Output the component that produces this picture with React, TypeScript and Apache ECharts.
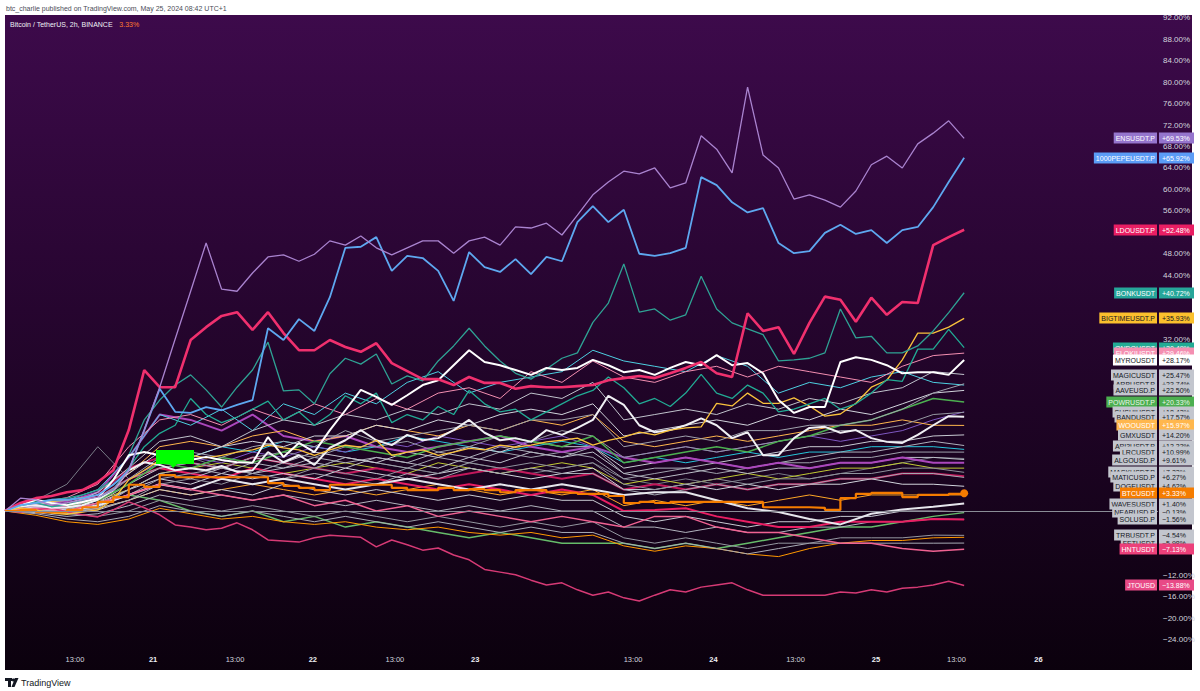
import React, { useEffect, useRef } from "react";
import * as echarts from "echarts";

// x axis: bar index (2h bars), tick labels placed at fractional bar positions
const xTickPos = [4.52, 9.57, 14.87, 19.9, 25.2, 30.4, 40.6, 45.8, 51.1, 56.3, 61.5, 66.8];
const xTickLabels = ["13:00", "21", "13:00", "22", "13:00", "23", "13:00", "24", "13:00", "25", "13:00", "26"];
const yMin = -28;
const yMax = 92;
const yStep = 4;

// ---- main series (63 bars, % change) ----
const ensVals = [0,2.4,2.1,1.1,1.5,2.1,2.6,3.9,7.6,15.1,23.1,32.1,41.0,50.0,41.4,41.0,44.4,47.4,47.8,46.6,47.9,50.4,49.6,51.3,49.1,47.8,49.1,50.4,50.4,48.1,50.4,51.1,49.6,53.0,52.8,53.7,51.5,55.2,59.0,61.4,63.4,62.9,64.0,60.3,61.2,70.0,67.5,63.1,79.1,66.4,64.0,58.2,59.0,58.0,56.7,59.7,64.6,66.2,64.0,68.5,70.5,72.8,69.53];
const pepeVals = [0,1.1,1.5,2.1,2.1,2.4,3.0,4.9,7.6,15.1,22.8,18.5,18.3,19.4,18.8,19.8,20.7,34.1,31.9,35.8,33.6,39.9,49.1,49.3,51.1,44.8,47.6,47.2,44.8,39.2,48.3,45.5,44.6,47.0,44.2,47.4,46.6,53.9,56.9,53.9,56.2,48.0,47.6,48.1,49.1,62.3,60.8,57.6,55.7,56.5,50.0,48.1,48.5,51.9,53.4,51.7,52.4,50.0,52.4,53.0,56.7,61.4,65.92];
const ldoVals = [0,1.5,2.4,2.8,3.5,3.9,5.4,7.6,15.1,26.3,23.1,23.1,31.9,34.3,36.4,37.1,33.8,37.1,33.2,30.0,30.0,31.9,30.6,29.7,31.3,27.6,26.1,24.6,24.6,23.5,25.0,23.9,23.9,22.8,23.3,23.1,23.1,23.3,23.5,24.4,24.8,25.2,24.8,25.7,26.7,27.8,25.7,25.0,36.9,33.6,34.3,29.3,35.1,40.0,39.4,35.3,39.8,36.6,39.0,38.8,49.6,51.1,52.48];
const bonkVals = [0,1.1,1.7,2.1,2.4,3.0,3.9,5.8,10.4,17.0,20.7,23.5,25.4,22.6,19.4,23.1,26.3,31.5,22.4,22.6,20.0,25.6,28.5,27.4,29.3,23.7,25.2,24.3,28.0,30.8,34.1,30.8,28.0,25.7,24.6,26.5,28.5,29.5,35.2,38.8,46.1,37.1,37.7,35.6,36.6,43.8,37.7,35.1,34.0,32.9,28.0,28.2,28.5,29.5,37.7,32.3,32.6,29.5,29.5,30.8,33.6,37.0,40.72];
const bigtimeVals = [0,0.6,0.2,-0.4,-0.6,-0.2,0.2,2.1,5.8,7.6,9.5,9.1,10.4,9.9,10.4,11.0,11.4,12.3,11.8,11.4,10.4,11.4,12.3,11.9,13.2,10.4,11.0,11.4,10.4,11.0,11.7,11.4,12.3,11.9,12.3,12.9,13.2,13.6,12.3,13.2,13.8,14.7,14.2,15.1,15.5,15.7,20.1,19.6,22.0,20.1,20.1,21.1,19.6,17.7,18.1,20.1,23.1,24.4,28.2,33.2,33.2,34.3,35.93];
const ondoVals = [0,1.0,1.5,0.8,1.2,2.0,2.5,4.0,8.0,12.0,14.5,16.0,21.0,18.0,16.5,17.5,19.0,20.5,17.0,18.5,16.0,18.0,21.5,20.0,22.0,16.5,18.0,17.0,19.5,18.0,22.5,20.0,18.5,19.0,17.0,18.5,20.0,21.5,22.5,25.0,23.0,20.0,21.0,19.5,22.0,25.5,22.0,21.0,23.5,22.0,18.5,19.0,20.0,21.0,19.0,20.0,22.0,24.5,24.2,30.2,30.2,33.9,30.49];
const myroVals = [0,1.1,2.1,1.5,1.1,1.7,2.4,5.8,10.4,11.0,10.4,9.9,9.5,10.1,9.5,9.1,9.0,13.8,10.1,12.7,11.0,15.1,18.8,22.6,21.3,19.8,21.6,23.5,24.4,27.2,30.0,27.8,27.2,26.3,25.4,26.7,26.3,26.7,28.2,27.2,25.9,26.3,25.4,26.7,27.8,27.2,29.1,27.2,27.6,25.7,20.7,18.3,19.4,19.4,27.8,28.7,28.2,27.2,25.7,25.9,25.9,25.4,28.17];
const bandVals = [0,0.9,1.1,0.6,0.7,1.1,2.1,3.9,7.6,9.1,8.6,7.6,8.0,7.6,8.4,7.3,7.6,11.0,9.1,10.4,8.6,11.8,13.2,15.1,13.2,12.3,14.2,13.2,13.6,15.1,17.0,14.6,13.2,13.6,12.9,15.1,14.2,15.5,17.0,21.5,19.8,16.0,14.7,15.1,16.0,17.3,16.0,13.6,14.7,10.4,10.4,13.6,15.5,15.7,14.6,15.1,13.6,12.9,12.7,14.2,16.0,17.7,17.57];
const btcVals = [0,0.2,-0.2,-0.2,0.2,0.7,1.7,2.6,4.9,4.5,6.7,6.3,6.3,6.3,6.3,6.3,6.3,5.2,4.7,4.3,3.9,4.9,4.9,4.9,4.9,4.3,3.9,3.9,4.3,3.9,4.1,3.9,3.5,3.9,3.9,3.5,3.4,3.2,3.2,2.8,1.5,1.7,1.5,1.7,1.7,1.7,1.7,1.7,1.7,0.7,0.7,0.7,0.6,0.2,2.4,3.2,3.4,3.4,2.6,3.0,3.0,3.2,3.33];
const jtoVals = [0,-0.2,0.2,0.6,-0.2,-0.7,-1.1,0.2,1.7,0.6,-0.7,-2.6,-3.0,-3.5,-3.2,-2.2,-3.5,-5.4,-5.6,-5.8,-5.0,-4.5,-4.7,-4.9,-6.7,-5.4,-6.3,-7.3,-6.9,-8.2,-9.1,-10.9,-11.4,-11.9,-12.9,-13.8,-13.4,-14.7,-15.7,-15.1,-16.2,-16.8,-15.7,-14.7,-15.1,-14.2,-13.8,-13.4,-14.7,-15.7,-15.7,-15.7,-15.7,-15.7,-15.1,-15.3,-14.7,-15.1,-14.4,-14.2,-13.8,-13.1,-13.88];

// ---- cluster series (every 2nd bar, 32 points, % change) ----
const magicVals = [0,1.5,1.0,3.5,8,13,14,12,15,17,16,18,17,19,18,20,19,22,21,24,17,18,19,18,20,19,21,20,22,23,26,25.47];
const arbVals = [0,1.2,0.5,2.5,6,10,11,10,12,13,12,15,13,14,15,16,15,17,17,18,12,13,14,13,15,15,16,16,17,19,22,23.74];
const aaveVals = [0,0.8,1.5,3.0,7,11,10,12,13,12,14,14,16,15,17,16,18,19,18,20,14,15,16,17,16,18,17,19,18,20,22,22.5];
const powrVals = [0,2.0,1.0,2.0,5,9,8,10,9,11,13,12,11,10,12,13,14,13,12,14,9,10,11,12,11,13,14,16,17,19,21,20.33];
const sushiVals = [0,0.5,0.0,1.5,6,8,9,8,10,11,10,12,12,13,11,12,14,13,15,14,10,11,12,11,12,13,14,15,15,16,18,18.42];
const wooVals = [0,1.5,2.0,3.0,7,12,13,12,14,15,13,14,16,15,14,16,15,17,16,18,13,12,13,14,13,14,15,16,16,17,16,15.97];
const gmxVals = [0,0.8,0.2,1.5,5,8,9,8,10,9,11,10,9,11,10,12,11,13,12,12,8,9,10,9,10,11,12,12,13,13,14,14.2];
const api3Vals = [0,0.3,-0.5,0.5,4,7,8,7,9,8,10,9,10,9,11,10,12,11,10,12,7,8,8,9,8,9,10,11,11,12,13,12.22];
const lrcVals = [0,0.6,0.0,1.0,3,6,7,8,7,9,8,10,9,8,10,9,11,10,11,10,6,7,8,7,8,9,9,10,10,11,11,10.99];
const algoVals = [0,1.0,0.5,1.5,4,7,6,8,7,8,9,8,10,9,8,10,9,11,10,11,7,6,7,8,7,8,8,9,9,10,10,9.61];
const maskVals = [0,0.2,-0.3,0.8,3,5,6,5,7,6,8,7,6,8,7,9,8,9,8,9,5,4,5,6,5,6,6,7,7,8,8,7.22];
const maticVals = [0,0.5,0.0,0.5,2,5,4,6,5,6,7,6,5,7,6,8,7,8,7,7,4,3,4,5,4,5,5,6,6,7,7,6.27];
const dogeVals = [0,0.6,0.0,1.2,4,6,5,7,6,7,6,8,7,6,7,8,7,6,7,8,4,4,5,4,5,4,5,5,6,5,5,4.62];
const wavesVals = [0,0.5,0.0,1.0,3,5,4,6,5,6,5,4,5,6,5,4,5,4,5,4,3,3.5,3.5,2,0.5,-0.2,-1.5,-2.5,-0.5,0.3,0.8,1.4];
const nearVals = [0,0.3,-0.5,0.2,2,4,3,4,3,5,4,3,4,3,2,3,2,3,2,2,-1,-2,-1,-2,-3,-2,-2,-1,-1,0,0,-0.13];
const solVals = [0,-0.3,-1.0,-0.5,1,3,2,3,2,3,2,1,2,1,0,1,0,1,0,0,-3,-3,-4,-3,-4,-4,-3,-3,-2,-2,-1.5,-1.56];
const trbVals = [0,0.2,-0.5,-1,0,2,1,0,1,0,-1,0,-1,-2,-1,-2,-3,-2,-3,-2,-5,-6,-5,-6,-7,-6,-6,-5,-5,-5,-4.5,-4.54];
const fetVals = [0,-0.5,-1.5,-2,-1,1,0,-1,0,-1,-2,-1,-2,-3,-2,-3,-4,-3,-4,-4,-6,-7,-6,-7,-8,-7,-6,-6,-6,-6,-6,-5.98];
const hntVals = [0,0.5,0.0,1.5,3,5,4,3,2,3,1,2,0,1,-1,0,-1,-2,-1,-2,-3,-1,-1,-3,-4,-4,-5,-6,-6,-7,-7.5,-7.13];
const flokiVals = [0,1.5,2.5,5.0,12,17,18,16,19,17,20,18,21,19,22,23,21,26,24,28,25,24,26,27,25,27,26,25,24,27,29,29.46];
const orangeLowVals = [0,-0.8,-2.0,-2.5,-1.5,0.5,-0.5,-1.5,-1,-2,-2.5,-2,-3,-3.5,-3,-4,-4.5,-4,-5,-4.5,-6.5,-7.5,-6.5,-7,-8,-8.5,-7,-6,-5.5,-5.5,-5,-4.9];
const pinkRedVals = [0,1.0,0.5,2.5,6,8,7,6,8,7,6,5,6,5,4,5,4,3,4,3,0,0.2,0.5,-1,-2,-3,-3,-2,-2,-2,-1.5,-1.6];
const greenLowVals = [0,0.5,-0.5,1.0,3,2,0,-1,0,-2,-1,-3,-2,-3,-4,-5,-4,-5,-6,-6,-6,-7,-6,-7,-6,-5,-4,-3,-3,-2,-1,-0.3];
const cyanVals = [0,1.5,2.0,4.0,10,18,16,19,15,20,18,22,20,24,26,22,24,25,26,30,28,27,26,29,27,22,24,23,25,26,24,23.5];
const cyan2Vals = [0,0.8,0.3,2.0,5,9,10,12,11,13,12,11,12,14,13,12,11,12,13,12,9,10,9,10,11,10,11,11,12,12,12,11.5];
const purpleVals = [0,1.2,1.8,3.5,10,18,17,15,18,14,13,14,12,11,12,13,14,12,11,12,10,9,10,9,8,9,8,9,9,10,9,9.0];
const violetVals = [0,0.7,1.0,2.5,6,9,10,9,11,10,12,11,13,12,14,13,12,13,14,12,10,11,12,11,12,13,14,13,14,15,17,18.5];
const magentaVals = [0,1.2,0.8,3.0,8,10,9,8,10,9,8,7,8,7,6,7,8,7,6,7,4,5,4,5,4,5,5,6,6,7,7,6.5];
const oliveVals = [0,0.5,1.0,2.0,4,7,8,9,8,7,8,9,8,7,9,8,7,8,9,8,5,6,5,6,7,6,7,8,8,9,8,8.0];
const orange2Vals = [0,0.2,-0.3,0.5,2,4,3,4,5,4,3,4,3,4,5,4,3,4,3,4,1,2,1,2,1,2,3,2,3,3,3,3.0];
const graySpikeVals = [0,2,5,12,6,9,10,8,7,9,8,10,9,8,7,9,8,7,8,9,6,5,6,5,6,7,6,7,8,9,10,9.8];

type Spec = {
  name: string;
  vals: number[];
  stride: number;
  color: string;
  width: number;
  step?: boolean;
  label?: string;
  box?: string;
  fg?: string;
};

const GRAYBOX = "#c3c6ce";
const DARK = "#131722";

// drawing order: cluster first, main series last
const specs: Spec[] = [
  { name: "graySpike", vals: graySpikeVals, stride: 2, color: "#787b86", width: 1 },
  { name: "cyan2", vals: cyan2Vals, stride: 2, color: "#26c6da", width: 1 },
  { name: "olive", vals: oliveVals, stride: 2, color: "#c0ca33", width: 1 },
  { name: "orange2", vals: orange2Vals, stride: 2, color: "#ffa726", width: 1 },
  { name: "greenLow", vals: greenLowVals, stride: 2, color: "#66bb6a", width: 1.5 },
  { name: "orangeLow", vals: orangeLowVals, stride: 2, color: "#ff9800", width: 1 },
  { name: "FETUSDT", vals: fetVals, stride: 2, color: "#a9acb6", width: 1, label: "FETUSDT", box: GRAYBOX, fg: DARK },
  { name: "TRBUSDT.P", vals: trbVals, stride: 2, color: "#9598a1", width: 1, label: "TRBUSDT.P", box: GRAYBOX, fg: DARK },
  { name: "SOLUSD.P", vals: solVals, stride: 2, color: "#b2b5be", width: 1, label: "SOLUSD.P", box: GRAYBOX, fg: DARK },
  { name: "NEARUSD.P", vals: nearVals, stride: 2, color: "#c8cad2", width: 1, label: "NEARUSD.P", box: GRAYBOX, fg: DARK },
  { name: "pinkRed", vals: pinkRedVals, stride: 2, color: "#e91e63", width: 2 },
  { name: "magenta", vals: magentaVals, stride: 2, color: "#c2185b", width: 2 },
  { name: "DOGEUSDT", vals: dogeVals, stride: 2, color: "#d1d4dc", width: 1, label: "DOGEUSDT", box: GRAYBOX, fg: DARK },
  { name: "MATICUSD.P", vals: maticVals, stride: 2, color: "#a5a8b2", width: 1, label: "MATICUSD.P", box: GRAYBOX, fg: DARK },
  { name: "MASKUSDT.P", vals: maskVals, stride: 2, color: "#8f929c", width: 1, label: "MASKUSDT.P", box: GRAYBOX, fg: DARK },
  { name: "ALGOUSD.P", vals: algoVals, stride: 2, color: "#bcbfc8", width: 1, label: "ALGOUSD.P", box: GRAYBOX, fg: DARK },
  { name: "LRCUSDT", vals: lrcVals, stride: 2, color: "#9ea1ab", width: 1, label: "LRCUSDT", box: GRAYBOX, fg: DARK },
  { name: "API3USDT.P", vals: api3Vals, stride: 2, color: "#aeb1bb", width: 1, label: "API3USDT.P", box: GRAYBOX, fg: DARK },
  { name: "GMXUSDT", vals: gmxVals, stride: 2, color: "#c8cad2", width: 1, label: "GMXUSDT", box: GRAYBOX, fg: DARK },
  { name: "purple", vals: purpleVals, stride: 2, color: "#ab47bc", width: 2 },
  { name: "violet", vals: violetVals, stride: 2, color: "#7e57c2", width: 1 },
  { name: "cyan", vals: cyanVals, stride: 2, color: "#4dd0e1", width: 1 },
  { name: "WOOUSDT", vals: wooVals, stride: 2, color: "#ffb74d", width: 1, label: "WOOUSDT", box: "#ffb74d", fg: "#ffffff" },
  { name: "SUSHIUSDT", vals: sushiVals, stride: 2, color: "#9598a1", width: 1, label: "SUSHIUSDT", box: GRAYBOX, fg: DARK },
  { name: "POWRUSDT.P", vals: powrVals, stride: 2, color: "#4caf50", width: 1.5, label: "POWRUSDT.P", box: "#4caf50", fg: "#e8f5e9" },
  { name: "AAVEUSD.P", vals: aaveVals, stride: 2, color: "#d1d4dc", width: 1, label: "AAVEUSD.P", box: GRAYBOX, fg: DARK },
  { name: "ARBUSDT.P", vals: arbVals, stride: 2, color: "#a0a3ad", width: 1, label: "ARBUSDT.P", box: GRAYBOX, fg: DARK },
  { name: "MAGICUSDT", vals: magicVals, stride: 2, color: "#c0c3cc", width: 1, label: "MAGICUSDT", box: GRAYBOX, fg: DARK },
  { name: "FLOKIUSDT", vals: flokiVals, stride: 2, color: "#f48fb1", width: 1, label: "FLOKIUSDT", box: "#f48fb1", fg: "#ffffff" },
  { name: "WAVESUSDT", vals: wavesVals, stride: 2, color: "#e6e6ec", width: 2, label: "WAVESUSDT", box: GRAYBOX, fg: DARK },
  { name: "HNTUSDT", vals: hntVals, stride: 2, color: "#f06292", width: 1.5, label: "HNTUSDT", box: "#ec407a", fg: "#ffffff" },
  { name: "JTOUSD", vals: jtoVals, stride: 1, color: "#d63a75", width: 1.5, label: "JTOUSD", box: "#e84a86", fg: "#ffffff" },
  { name: "BANDUSDT", vals: bandVals, stride: 1, color: "#f0f0f4", width: 2, label: "BANDUSDT", box: GRAYBOX, fg: DARK },
  { name: "BIGTIMEUSDT.P", vals: bigtimeVals, stride: 1, color: "#f9c23c", width: 1.3, label: "BIGTIMEUSDT.P", box: "#fbc02d", fg: DARK },
  { name: "ONDOUSDT", vals: ondoVals, stride: 1, color: "#22ab94", width: 1.3, label: "ONDOUSDT", box: "#22ab94", fg: "#ffffff" },
  { name: "BONKUSDT", vals: bonkVals, stride: 1, color: "#2fa294", width: 1.3, label: "BONKUSDT", box: "#26a69a", fg: "#ffffff" },
  { name: "MYROUSDT", vals: myroVals, stride: 1, color: "#ffffff", width: 2, label: "MYROUSDT", box: "#ffffff", fg: DARK },
  { name: "LDOUSDT.P", vals: ldoVals, stride: 1, color: "#f0306e", width: 2.6, label: "LDOUSDT.P", box: "#e91e63", fg: "#ffffff" },
  { name: "1000PEPEUSDT.P", vals: pepeVals, stride: 1, color: "#5ea8f0", width: 1.8, label: "1000PEPEUSDT.P", box: "#5b9cf6", fg: "#ffffff" },
  { name: "ENSUSDT.P", vals: ensVals, stride: 1, color: "#a983cf", width: 1.3, label: "ENSUSDT.P", box: "#9575cd", fg: "#ffffff" },
  { name: "BTCUSDT", vals: btcVals, stride: 1, color: "#f57c00", width: 2.2, step: true, label: "BTCUSDT", box: "#f57c00", fg: "#ffffff" },
];

const FONT = '"Liberation Sans", Arial, sans-serif';
const NARROW = '"Liberation Sans Narrow", "Liberation Sans", Arial, sans-serif';
const fmtPct = (v: number) => (v >= 0 ? "+" : "\u2212") + Math.abs(v).toFixed(2) + "%";
const fmtAxis = (v: number) => (v < 0 ? "\u2212" : "") + Math.abs(v).toFixed(2) + "%";

export default function App() {
  const ref = useRef<HTMLDivElement>(null);
  useEffect(() => {
    if (!ref.current) return;
    const chart = echarts.init(ref.current, undefined, { renderer: "svg" });

    const series: any[] = specs.map((s) => {
      const lastIdx = s.vals.length - 1;
      const data: any[] = s.vals.map((v, k) => {
        if (s.name === "BTCUSDT" && k === lastIdx) {
          return { value: [k * s.stride, v], symbol: "circle", symbolSize: 8, itemStyle: { color: s.color } };
        }
        return [k * s.stride, v];
      });
      const o: any = {
        name: s.name,
        type: "line",
        data,
        symbol: "none",
        showSymbol: s.name === "BTCUSDT",
        silent: true,
        lineStyle: { color: s.color, width: s.width },
        itemStyle: { color: s.color },
        z: 3,
      };
      if (s.step) o.step = "end";
      if (s.name === "BTCUSDT") {
        o.markLine = {
          silent: true,
          symbol: "none",
          label: { show: false },
          lineStyle: { color: "#8a8d96", width: 1, type: "solid" },
          data: [{ yAxis: 0 }],
        };
      }
      return o;
    });

    const baseGraphic: any[] = [
      {
        id: "panel",
        type: "rect",
        z: -10,
        silent: true,
        shape: { x: 5, y: 15, width: 1187, height: 655 },
        style: {
          fill: new echarts.graphic.LinearGradient(0, 0, 0, 1, [
            { offset: 0, color: "#3d0a4b" },
            { offset: 0.45, color: "#26052f" },
            { offset: 1, color: "#0b010d" },
          ]),
        },
      },
      {
        id: "hdr",
        type: "text",
        silent: true,
        style: {
          text: "btc_charlie published on TradingView.com, May 25, 2024 08:42 UTC+1",
          x: 6,
          y: 8,
          verticalAlign: "middle",
          fill: "#4a4d57",
          font: `7px ${FONT}`,
        },
      },
      {
        id: "title",
        type: "text",
        silent: true,
        z: 50,
        style: {
          text: "{a|Bitcoin / TetherUS, 2h, BINANCE}  {b|3.33%}",
          x: 10,
          y: 24,
          verticalAlign: "middle",
          rich: {
            a: { fill: "#eef0f5", font: `7px ${FONT}` },
            b: { fill: "#ff7a2e", font: `7px ${FONT}` },
          },
        },
      },
      {
        id: "callout",
        type: "group",
        silent: true,
        z: 40,
        children: [
          { type: "rect", z: 40, shape: { x: 156, y: 450, width: 38, height: 14 }, style: { fill: "#00ff00" } },
          { type: "polygon", z: 40, shape: { points: [[170, 464], [177, 464], [173, 468]] }, style: { fill: "#00ff00" } },
        ],
      },
      {
        id: "logo",
        type: "group",
        silent: true,
        children: [
          { type: "rect", shape: { x: 5, y: 678, width: 7, height: 3 }, style: { fill: "#131722" } },
          { type: "rect", shape: { x: 8, y: 678, width: 3, height: 9 }, style: { fill: "#131722" } },
          { type: "circle", shape: { cx: 13.5, cy: 680, r: 1.6 }, style: { fill: "#131722" } },
          { type: "polygon", shape: { points: [[15, 678], [18.5, 678], [14.5, 687], [11.5, 687]] }, style: { fill: "#131722" } },
          {
            type: "text",
            style: { text: "TradingView", x: 21, y: 683, verticalAlign: "middle", fill: "#131722", font: `9px ${FONT}` },
          },
        ],
      },
    ];

    const option: any = {
      animation: false,
      backgroundColor: "#ffffff",
      grid: { left: 5, width: 1153, top: 17.9, height: 643.2, containLabel: false },
      xAxis: {
        type: "value",
        min: 0,
        max: 74.53,
        offset: -9,
        axisLine: { show: false },
        axisTick: { show: false },
        splitLine: { show: false },
        axisLabel: {
          customValues: xTickPos,
          margin: 3,
          color: "#d1d4dc",
          fontSize: 7.5,
          fontFamily: FONT,
          formatter: (val: number) => {
            let best = 0;
            for (let i = 1; i < xTickPos.length; i++) {
              if (Math.abs(xTickPos[i] - val) < Math.abs(xTickPos[best] - val)) best = i;
            }
            const t = xTickLabels[best];
            return t.indexOf(":") >= 0 ? t : "{b|" + t + "}";
          },
          rich: { b: { fontWeight: "bold", color: "#eef0f5", fontSize: 7.5, fontFamily: FONT } },
        },
      },
      yAxis: {
        type: "value",
        position: "right",
        min: yMin,
        max: yMax,
        interval: yStep,
        axisLine: { show: false },
        axisTick: { show: false },
        splitLine: { show: false },
        axisLabel: {
          showMinLabel: false,
          margin: 5,
          color: "#d1d4dc",
          fontSize: 8,
          fontFamily: FONT,
          formatter: fmtAxis,
        },
      },
      graphic: { elements: baseGraphic },
      series,
    };
    chart.setOption(option);

    // price-scale labels placed at each series' last value through the y scale
    const labelled = specs.filter((s) => s.label);
    labelled.sort((a, b) => b.vals[b.vals.length - 1] - a.vals[a.vals.length - 1]);
    const labelEls: any[] = [];
    const labelYs: number[] = [];
    labelled.forEach((s, i) => {
      const last = s.vals[s.vals.length - 1];
      const lastX = (s.vals.length - 1) * s.stride;
      const p = chart.convertToPixel({ gridIndex: 0 }, [lastX, last]) as number[];
      const py = Math.round(p[1]);
      labelYs.push(py);
      const z = 100 + i;
      labelEls.push({
        id: "ln" + i,
        type: "text",
        silent: true,
        z,
        style: {
          text: s.label,
          x: 1157,
          y: py,
          align: "right",
          verticalAlign: "middle",
          fill: s.fg,
          backgroundColor: s.box,
          padding: [2, 2, 1, 2],
          lineHeight: 8,
          font: `7px ${NARROW}`,
        },
      });
      labelEls.push({
        id: "lv" + i,
        type: "text",
        silent: true,
        z,
        style: {
          text: fmtPct(last),
          x: 1159,
          y: py,
          align: "left",
          verticalAlign: "middle",
          fill: s.fg,
          backgroundColor: s.box,
          padding: [2, 2, 1, 3],
          width: 30,
          lineHeight: 8,
          font: `7px ${FONT}`,
        },
      });
    });

    // scale ticks that sit under a price label are not shown (as on the reference scale)
    const hidden = new Set<number>();
    for (let v = yMin; v <= yMax; v += yStep) {
      const ty = (chart.convertToPixel({ gridIndex: 0 }, [0, v]) as number[])[1];
      if (labelYs.some((ly) => Math.abs(ly - ty) < 7.5)) hidden.add(v);
    }

    chart.setOption({
      yAxis: { axisLabel: { formatter: (v: number) => (hidden.has(Math.round(v)) ? "" : fmtAxis(v)) } },
      graphic: { elements: [...baseGraphic, ...labelEls] },
    });

    return () => chart.dispose();
  }, []);

  return <div ref={ref} style={{ position: "absolute", left: 0, top: 0, width: 1200, height: 691 }} />;
}
